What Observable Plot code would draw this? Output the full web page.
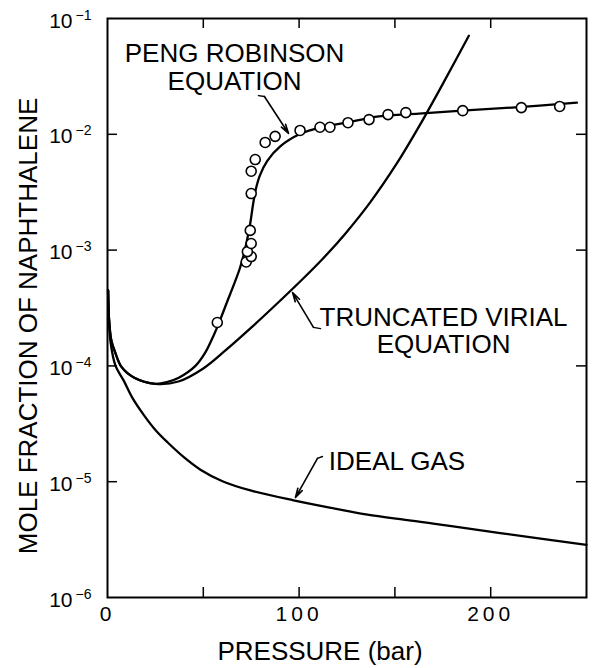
<!DOCTYPE html>
<html><head><meta charset="utf-8">
<script src="https://cdn.jsdelivr.net/npm/d3@7"></script>
<script src="https://cdn.jsdelivr.net/npm/@observablehq/plot@0.6"></script>
<style>body{margin:0;background:#fff}</style>
</head><body><div id="chart"></div>
<script>
// ---- data (pressure in bar, mole fraction of naphthalene) ----
const idealP = [0.3, 0.8, 1.6, 4.2, 8.4, 13, 18.8, 25, 31.3, 40, 48.5, 60, 74.6, 97.1, 120, 135.7, 170, 205, 250];
const idealY = [4.5e-4, 2.5e-4, 1.6e-4, 1.0e-4, 7.5e-5, 5.3e-5, 3.8e-5, 2.8e-5, 2.19e-5, 1.62e-5, 1.27e-5, 1.01e-5, 8.4e-6, 6.9e-6, 5.8e-6, 5.2e-6, 4.35e-6, 3.6e-6, 2.85e-6];

const prP = [0.3, 0.8, 2, 4, 7.3, 14, 25, 31, 37.2, 45.9, 51, 55.5, 59, 62.5, 65.9, 69, 71.1, 73, 74.6, 76, 77.5, 79.5, 83.4, 90.3, 100.7, 111.2, 124.5, 141.7, 162.5, 185, 211, 245];
const prY = [4.5e-4, 2.5e-4, 1.66e-4, 1.31e-4, 9.8e-5, 7.9e-5, 7.0e-5, 7.24e-5, 7.9e-5, 1.0e-4, 1.3e-4, 1.85e-4, 2.55e-4, 3.6e-4, 5.0e-4, 6.9e-4, 9.1e-4, 1.26e-3, 1.74e-3, 2.5e-3, 3.4e-3, 4.4e-3, 5.9e-3, 7.9e-3, 1.01e-2, 1.15e-2, 1.26e-2, 1.43e-2, 1.51e-2, 1.60e-2, 1.70e-2, 1.88e-2];

const virialP = [0.3, 0.8, 2, 4, 7.3, 14, 25, 37, 50, 62, 75, 88, 100, 112, 124, 137, 151, 163, 175.5, 188.6];
const virialY = [4.5e-4, 2.5e-4, 1.66e-4, 1.31e-4, 9.8e-5, 7.9e-5, 7.0e-5, 7.33e-5, 9.5e-5, 1.38e-4, 2.14e-4, 3.39e-4, 5.25e-4, 8.3e-4, 1.38e-3, 2.57e-3, 5.6e-3, 1.2e-2, 2.82e-2, 7.1e-2];

const expP = [57.3, 72.4, 75, 73, 75, 74.5, 75, 75, 77.1, 82.3, 87.5, 100.5, 110.9, 116.1, 125.5, 136.5, 146.4, 155.7, 185.4, 216, 236];
const expY = [2.37e-4, 7.9e-4, 8.8e-4, 9.7e-4, 1.14e-3, 1.48e-3, 3.08e-3, 4.8e-3, 6.05e-3, 8.5e-3, 9.6e-3, 1.08e-2, 1.15e-2, 1.15e-2, 1.26e-2, 1.34e-2, 1.48e-2, 1.54e-2, 1.60e-2, 1.70e-2, 1.74e-2];

const xTickLabels = [0, 100, 200];
const xTickMarks = [50, 100, 150, 200];
const yTickLabels = [1e-1, 1e-2, 1e-3, 1e-4, 1e-5, 1e-6];
const yTickMarks = [1e-2, 1e-3, 1e-4, 1e-5];

const labels = [
  {text: "PENG ROBINSON", p: 66.3, y: 0.0417},
  {text: "EQUATION", p: 66.3, y: 0.0239},
  {text: "TRUNCATED VIRIAL", p: 175.4, y: 2.23e-4},
  {text: "EQUATION", p: 175.4, y: 1.28e-4},
  {text: "IDEAL GAS", p: 151.1, y: 1.25e-5}
];
const arrows = [
  {p1: 81.9, y1: 0.0212, p2: 94.5, y2: 0.01017},
  {p1: 107.5, y1: 2.15e-4, p2: 96.6, y2: 4.3e-4},
  {p1: 109.6, y1: 1.59e-5, p2: 98.1, y2: 7.3e-6}
];
const hooks = [
  {s: "a", p: 78.8, y: 0.0216}, {s: "a", p: 81.9, y: 0.0212},
  {s: "b", p: 111.2, y: 2.1e-4}, {s: "b", p: 107.5, y: 2.15e-4},
  {s: "c", p: 112.2, y: 1.65e-5}, {s: "c", p: 109.6, y: 1.59e-5}
];

// ---- build ----
const series = (P, Y, s) => P.map((p, i) => ({p, y: Y[i], s}));
const curves = [
  ...series(idealP, idealY, "ideal"),
  ...series(prP, prY, "pr"),
  ...series(virialP, virialY, "virial")
];
const points = series(expP, expY, "exp");

const W = 594, H = 668, mL = 107, mR = 8, mT = 18, mB = 71;
const fw = W - mL - mR, fh = H - mT - mB;
const font = "'Liberation Sans', Arial, Helvetica, sans-serif";

const chart = Plot.plot({
  width: W, height: H,
  marginLeft: mL, marginRight: mR, marginTop: mT, marginBottom: mB,
  x: {domain: [0, 250], axis: null},
  y: {type: "log", domain: [1e-6, 1e-1], axis: null},
  style: {fontFamily: font, background: "#fff", color: "#000"},
  marks: [
    Plot.frame({stroke: "#000", strokeWidth: 2}),
    Plot.ruleX(xTickMarks, {x: d => d, insetTop: fh - 10, stroke: "#000", strokeWidth: 1.5}),
    Plot.ruleX(xTickMarks, {x: d => d, insetBottom: fh - 10, stroke: "#000", strokeWidth: 1.5}),
    Plot.ruleY(yTickMarks, {y: d => d, insetRight: fw - 10, stroke: "#000", strokeWidth: 1.5}),
    Plot.ruleY(yTickMarks, {y: d => d, insetLeft: fw - 10, stroke: "#000", strokeWidth: 1.5}),
    Plot.text(xTickLabels, {x: d => d, text: d => String(d), frameAnchor: "bottom", dy: 23, lineAnchor: "bottom", fontSize: 21, fill: "#000"}),
    Plot.text(yTickLabels, {y: d => d, text: () => "10", frameAnchor: "left", textAnchor: "end", dx: -35, dy: 9, lineAnchor: "bottom", fontSize: 21, fill: "#000"}),
    Plot.text(yTickLabels, {y: d => d, text: d => "\u2212" + Math.round(-Math.log10(d)), frameAnchor: "left", textAnchor: "start", dx: -32, dy: 1, lineAnchor: "bottom", fontSize: 14, fill: "#000"}),
    Plot.text(["PRESSURE (bar)"], {text: d => d, frameAnchor: "bottom", textAnchor: "middle", dx: -27, dy: 62, lineAnchor: "bottom", fontSize: 26, fill: "#000"}),
    Plot.text(["MOLE FRACTION OF NAPHTHALENE"], {text: d => d, frameAnchor: "left", textAnchor: "middle", rotate: -90, dx: -71, dy: 18, lineAnchor: "bottom", fontSize: 26, fill: "#000"}),
    Plot.line(curves, {x: "p", y: "y", z: "s", curve: "catmull-rom", stroke: "#000", strokeWidth: 2.3}),
    Plot.dot(points, {x: "p", y: "y", r: 5, stroke: "#000", fill: "#fff", strokeWidth: 1.6}),
    Plot.line(hooks, {x: "p", y: "y", z: "s", stroke: "#000", strokeWidth: 1.4}),
    Plot.arrow(arrows, {x1: "p1", y1: "y1", x2: "p2", y2: "y2", stroke: "#000", strokeWidth: 1.6, headLength: 9, headAngle: 30}),
    Plot.text(labels, {x: "p", y: "y", text: "text", textAnchor: "middle", lineAnchor: "bottom", fontSize: 26, fill: "#000"})
  ]
});

d3.select(chart).selectAll("text")
  .filter(function() { return ["0", "100", "200"].includes(this.textContent); })
  .attr("letter-spacing", "4px");

document.getElementById("chart").appendChild(chart);
</script>
</body></html>
